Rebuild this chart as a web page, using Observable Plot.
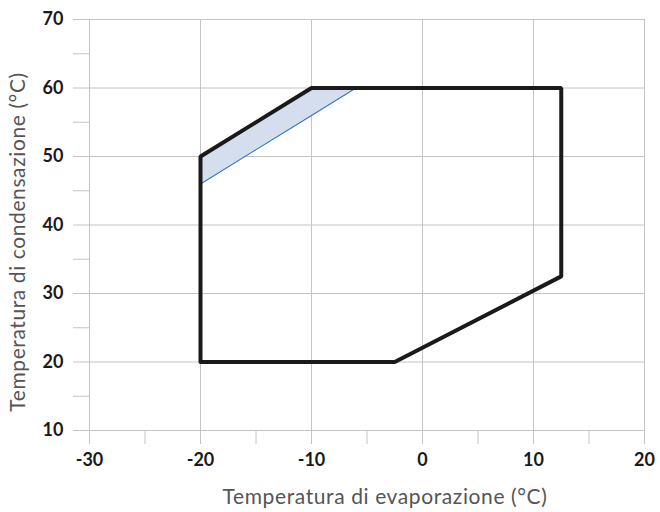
<!DOCTYPE html>
<html>
<head>
<meta charset="utf-8">
<script src="https://cdn.jsdelivr.net/npm/d3@7"></script>
<script src="https://cdn.jsdelivr.net/npm/@observablehq/plot@0.6"></script>
<style>
  html, body { margin: 0; padding: 0; background: #fff; }
  #chart svg { display: block; }
</style>
</head>
<body>
<div id="chart"></div>
<script>
// Operating envelope (evaporating temp °C, condensing temp °C)
const envelopeX = [-20, -20, -10, 12.5, 12.5, -2.5, -20];
const envelopeY = [20, 50, 60, 60, 32.5, 20, 20];
// Highlighted zone (blue band along upper-left edge)
const zoneX = [-20, -10, -6];
const zoneLow = [46, 56, 60];
const zoneHigh = [50, 60, 60];
// Axis ticks
const xTicks = [-30, -25, -20, -15, -10, -5, 0, 5, 10, 15, 20];
const xMajor = [-30, -20, -10, 0, 10, 20];
const yTicks = [10, 15, 20, 25, 30, 35, 40, 45, 50, 55, 60, 65, 70];
const yMajor = [10, 20, 30, 40, 50, 60, 70];
const xTitle = "Temperatura di evaporazione (°C)";
const yTitle = "Temperatura di condensazione (°C)";

const envelope = envelopeX.map((x, i) => ({x, y: envelopeY[i]}));
const zone = zoneX.map((x, i) => ({x, lo: zoneLow[i], hi: zoneHigh[i]}));

const chart = Plot.plot({
  width: 660,
  height: 512,
  marginLeft: 89,
  marginRight: 16,
  marginTop: 19,
  marginBottom: 82,
  style: {fontFamily: "Lato, sans-serif", background: "#fff"},
  x: {domain: [-30, 20]},
  y: {domain: [10, 70]},
  marks: [
    Plot.gridX(xMajor, {stroke: "#c4c4c4", strokeOpacity: 1, strokeWidth: 1}),
    Plot.gridY(yMajor, {stroke: "#c4c4c4", strokeOpacity: 1, strokeWidth: 1}),
    Plot.axisX({
      ticks: xTicks, tickSize: 14, tickPadding: 9, stroke: "#c4c4c4",
      tickFormat: d => d % 10 === 0 ? String(d) : "",
      fontSize: 18, fontWeight: "bold", fill: "#1a1a1a", label: null
    }),
    Plot.axisY({
      ticks: yTicks, tickSize: 16, tickPadding: 10, stroke: "#c4c4c4",
      tickFormat: d => d % 10 === 0 ? String(d) : "",
      fontSize: 18, fontWeight: "bold", fill: "#1a1a1a", label: null
    }),
    Plot.areaY(zone, {x: "x", y1: "lo", y2: "hi", fill: "#d4deef"}),
    Plot.line(zone, {x: "x", y: "lo", stroke: "#2f74c0", strokeWidth: 1.2}),
    Plot.line(envelope, {x: "x", y: "y", stroke: "#1a1a1a", strokeWidth: 4, strokeLinejoin: "miter", curve: "linear"}),
    Plot.text([xTitle], {text: d => d, frameAnchor: "bottom", dy: 73, dx: 18, fontSize: 21, fill: "#555"}),
    Plot.text([yTitle], {text: d => d, frameAnchor: "left", textAnchor: "middle", rotate: -90, dx: -71, dy: 17, fontSize: 21, fill: "#555"})
  ]
});
document.getElementById("chart").appendChild(chart);
chart.querySelectorAll("text").forEach(t => {
  if (t.textContent === xTitle || t.textContent === yTitle) t.setAttribute("letter-spacing", "0.6");
});
</script>
</body>
</html>
